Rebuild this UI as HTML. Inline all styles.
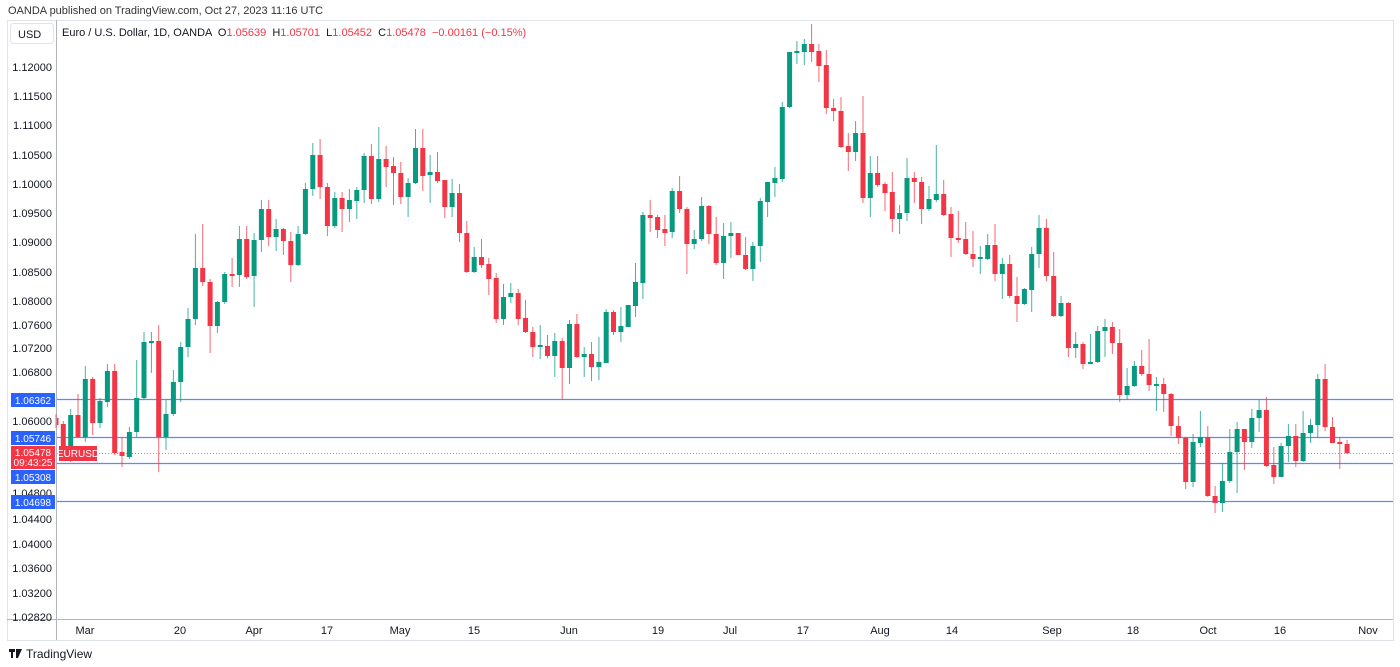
<!DOCTYPE html>
<html><head><meta charset="utf-8"><style>
html,body{margin:0;padding:0;background:#fff;width:1400px;height:667px;overflow:hidden;font-family:"Liberation Sans",sans-serif}
svg text{font-family:"Liberation Sans",sans-serif}
</style></head><body>
<svg id="c" width="1400" height="667" xmlns="http://www.w3.org/2000/svg">
<text x="8" y="14" font-size="11" fill="#333">OANDA published on TradingView.com, Oct 27, 2023 11:16 UTC</text>
<rect x="7.5" y="20.5" width="1386" height="620" fill="none" stroke="#e0e3eb"/>
<line x1="56.5" y1="20" x2="56.5" y2="640" stroke="#b2b5be"/>
<line x1="7" y1="619.5" x2="1393" y2="619.5" stroke="#b2b5be"/>
<rect x="10.5" y="23.5" width="43" height="20" rx="3" fill="#fff" stroke="#e0e3eb"/>
<text x="18" y="38" font-size="11" fill="#131722">USD</text>
<text x="62" y="36" font-size="11" fill="#131722" xml:space="preserve">Euro / U.S. Dollar, 1D, OANDA  O<tspan fill="#f23645">1.05639</tspan>  H<tspan fill="#f23645">1.05701</tspan>  L<tspan fill="#f23645">1.05452</tspan>  C<tspan fill="#f23645">1.05478  −0.00161 (−0.15%)</tspan></text>
<g font-size="11" fill="#131722" text-anchor="end">
<text x="52" y="71">1.12000</text><text x="52" y="100">1.11500</text><text x="52" y="129">1.11000</text>
<text x="52" y="159">1.10500</text><text x="52" y="188">1.10000</text><text x="52" y="217">1.09500</text>
<text x="52" y="246">1.09000</text><text x="52" y="276">1.08500</text><text x="52" y="305">1.08000</text>
<text x="52" y="329">1.07600</text><text x="52" y="352">1.07200</text><text x="52" y="376">1.06800</text>
<text x="52" y="425">1.06000</text><text x="52" y="497">1.04800</text>
<text x="52" y="523">1.04400</text><text x="52" y="548">1.04000</text><text x="52" y="572">1.03600</text>
<text x="52" y="597">1.03200</text><text x="52" y="621">1.02820</text>
</g>
<g font-size="11" fill="#131722" text-anchor="middle">
<text x="85" y="634">Mar</text><text x="180" y="634">20</text><text x="254" y="634">Apr</text>
<text x="327" y="634">17</text><text x="400" y="634">May</text><text x="474" y="634">15</text>
<text x="569" y="634">Jun</text><text x="658" y="634">19</text><text x="730" y="634">Jul</text>
<text x="803" y="634">17</text><text x="880" y="634">Aug</text><text x="952" y="634">14</text>
<text x="1052" y="634">Sep</text><text x="1133" y="634">18</text><text x="1208" y="634">Oct</text>
<text x="1280" y="634">16</text><text x="1368" y="634">Nov</text>
</g>
<g stroke="#5b8def" stroke-width="1.3">
<line x1="57" y1="399.5" x2="1393" y2="399.5"/><line x1="57" y1="437.5" x2="1393" y2="437.5"/>
<line x1="57" y1="463.5" x2="1393" y2="463.5"/><line x1="57" y1="501.5" x2="1393" y2="501.5"/>
</g>
<line x1="57" y1="453.5" x2="1393" y2="453.5" stroke="#f23645" stroke-dasharray="1,2" opacity="0.7"/>
<g id="candles"></g>
<g font-size="10" fill="#fff" text-anchor="middle">
<rect x="11" y="393" width="44" height="14" fill="#2962ff"/><text x="33" y="404">1.06362</text>
<rect x="11" y="431" width="44" height="14" fill="#2962ff"/><text x="33" y="442">1.05746</text>
<rect x="11" y="470" width="44" height="14" fill="#2962ff"/><text x="33" y="481">1.05308</text>
<rect x="11" y="495" width="44" height="14" fill="#2962ff"/><text x="33" y="506">1.04698</text>
<rect x="11" y="446" width="44" height="23" fill="#f23645"/><text x="33" y="456">1.05478</text><text x="33" y="466">09:43:25</text>
<rect x="59" y="446" width="38" height="15" fill="#f23645"/><text x="78" y="457">EURUSD</text>
</g>
<g fill="#131722"><rect x="9" y="649" width="6" height="3"/><rect x="11" y="649" width="2" height="9"/><polygon points="16,649 22,649 18,658 16,658"/></g>
<text x="26" y="658" font-size="12" fill="#131722">TradingView</text>
</svg>
<script>
var d="r 418 425 414 428|r 424 457 421 460|g 415 457 409 462|r 415 437 394 437|g 379 437 366 442|r 379 423 377 435|g 401 423 398 428|g 371 402 364 407|r 371 453 364 455|r 452 456 437 467|g 432 457 427 459|g 398 432 360 437|g 342 398 332 399|g 341 343 332 373|r 341 437 325 472|g 414 437 400 450|g 382 414 370 416|g 347 382 342 402|g 319 347 308 357|g 268 319 234 325|r 268 282 224 286|r 282 326 279 353|g 302 326 301 333|g 274 302 272 304|r 274 275 258 287|g 239 275 226 287|r 239 277 226 279|g 240 276 233 307|g 209 240 200 252|r 209 237 200 246|g 229 237 219 251|r 229 241 228 255|r 241 265 232 282|g 234 265 226 266|g 189 234 183 235|g 155 189 143 196|r 155 187 139 199|r 187 226 183 236|g 198 226 192 228|r 198 209 192 232|g 200 209 189 222|g 190 201 187 219|g 156 190 153 203|r 156 199 144 204|g 159 199 127 202|r 159 167 146 187|r 166 173 157 205|r 173 197 162 204|g 183 197 178 217|g 148 183 129 184|r 148 176 129 191|g 172 175 155 203|r 172 181 152 183|r 180 207 180 218|g 193 207 179 217|r 193 233 184 242|r 233 272 221 273|g 257 272 247 273|r 257 265 239 268|r 264 279 258 295|r 278 319 273 323|g 297 319 284 325|g 293 297 283 303|r 293 319 289 325|r 318 332 300 333|r 332 347 327 357|g 345 347 325 359|r 346 356 335 358|g 341 356 333 377|r 341 368 338 400|g 324 368 320 384|r 324 357 314 358|g 354 357 347 377|r 354 367 342 381|g 362 367 337 380|g 312 363 309 363|r 312 332 310 335|g 326 332 307 342|g 305 327 305 327|g 282 306 263 317|g 215 283 212 299|r 215 218 200 232|r 217 230 215 238|r 229 233 215 246|g 191 232 188 238|r 191 209 176 213|r 209 244 207 274|g 239 244 230 249|g 206 239 197 241|r 206 234 205 244|r 234 263 217 265|g 236 263 223 279|g 233 236 222 258|r 233 255 233 255|r 255 269 237 270|g 246 269 242 281|g 201 246 198 262|g 182 202 182 217|g 178 183 167 197|g 107 179 102 182|g 52 107 52 108|g 51 53 41 64|g 44 52 39 65|r 44 52 24 62|r 51 66 44 82|r 65 108 50 114|r 108 111 99 121|r 111 147 97 148|r 146 152 133 171|g 133 152 121 161|r 133 198 96 203|g 173 198 156 217|r 173 185 156 187|r 184 193 182 211|r 192 219 172 232|g 213 219 205 234|g 178 213 158 221|r 178 182 172 203|r 182 209 177 224|g 199 209 186 211|g 194 200 145 202|r 194 215 180 216|r 214 238 207 257|r 238 240 211 243|r 239 254 222 255|r 254 259 231 267|g 257 259 246 274|g 245 259 234 260|r 245 274 224 281|g 264 274 258 299|r 264 296 255 298|r 296 304 277 322|g 289 304 288 305|g 254 290 247 312|g 228 254 215 268|r 228 276 219 281|r 276 316 252 317|g 303 316 296 317|r 303 348 302 357|g 344 348 332 358|r 344 364 342 369|g 362 364 334 364|g 331 362 326 363|g 327 331 319 357|r 327 343 322 354|r 343 395 329 402|g 386 395 368 400|g 366 386 361 387|r 366 374 350 376|r 374 385 339 391|g 384 385 377 411|r 384 394 378 412|r 394 426 393 436|r 426 438 416 444|r 438 482 437 489|g 442 482 434 487|g 437 443 411 447|r 437 496 426 497|r 496 503 486 513|g 481 503 463 512|g 452 481 429 483|g 429 452 422 493|r 429 442 429 470|g 418 442 409 448|g 410 418 400 432|r 410 466 397 467|r 465 477 447 484|g 446 477 443 477|g 436 446 424 462|r 436 461 424 467|g 433 461 411 462|g 425 433 419 443|g 379 425 374 438|r 379 427 364 431|r 427 443 417 443|r 442 444 437 469|r 444 453 440 454";
var g=document.getElementById("candles"),h="";
d.split("|").forEach(function(s,i){var p=s.split(" "),c=p[0]=="g"?"#089981":"#f23645",x=56+7.336*i;
var bt=+p[1],bb=+p[2],wt=+p[3],wb=+p[4];if(bb-bt<2)bb=bt+2;
var l=Math.max(57,x-2.5),r=x+2.5;
h+='<line x1="'+x.toFixed(1)+'" y1="'+wt+'" x2="'+x.toFixed(1)+'" y2="'+wb+'" stroke="'+c+'" stroke-width="1" opacity="0.75"/>';
h+='<rect x="'+l.toFixed(1)+'" y="'+bt+'" width="'+(r-l).toFixed(1)+'" height="'+(bb-bt)+'" fill="'+c+'"/>';});
g.innerHTML=h;
</script>
</body></html>
